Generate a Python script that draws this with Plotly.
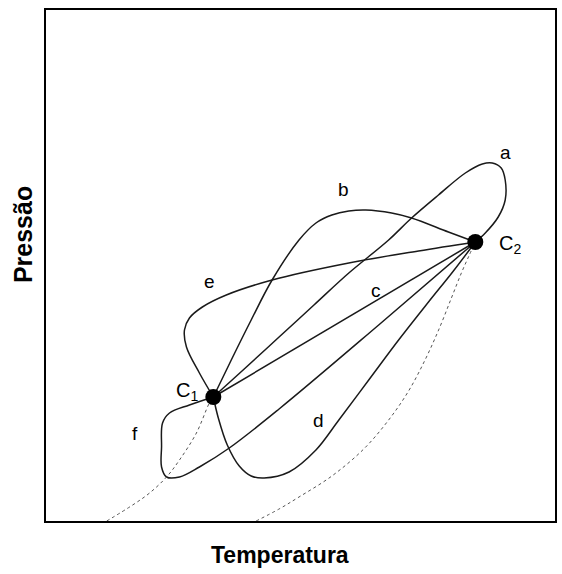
import plotly.graph_objects as go

# Schematic P-T diagram; coordinates in arbitrary units (T to the right, P upward)
# Points (pixel -> units: T = x-46, P = 521-y)
def conv(pts):
    return [p[0] - 46 for p in pts], [521 - p[1] for p in pts]

C1 = (214, 397)
C2 = (477, 242)

curve_a = [(214, 397), (245, 369), (280, 337), (315, 305), (350, 273), (390, 240), (413, 218),
           (440, 195), (467, 173), (484, 164), (494, 163), (503, 168), (507, 180), (507, 200),
           (500, 217), (487, 233), (477, 242)]
curve_b = [(214, 397), (232, 360), (252, 320), (273, 280), (300, 240), (317, 223), (333, 215),
           (350, 211), (367, 210), (393, 213), (413, 218), (450, 232), (477, 242)]
curve_c = [(214, 397), (477, 242)]
curve_d = [(214, 397), (219, 418), (228, 445), (240, 466), (252, 476), (265, 478), (290, 472),
           (317, 450), (340, 420), (370, 380), (400, 340), (430, 302), (455, 271), (477, 242)]
curve_e = [(214, 397), (200, 373), (187, 347), (185, 330), (190, 318), (203, 307), (227, 295),
           (273, 280), (350, 263), (420, 251), (477, 242)]
curve_f = [(214, 397), (190, 405), (170, 413), (163, 423), (162, 447), (162, 467), (167, 477),
           (180, 477), (200, 467), (230, 448), (280, 409), (380, 325), (477, 242)]
dotted_1 = [(107, 521), (133, 505), (150, 493), (167, 477), (180, 460), (197, 433), (210, 403), (214, 397)]
dotted_2 = [(257, 521), (280, 509), (300, 497), (333, 476), (365, 449), (390, 420), (410, 391),
            (427, 359), (441, 328), (453, 298), (463, 273), (471, 255), (477, 242)]

curve_labels = ["a", "b", "c", "d", "e", "f"]
label_pos = [(507, 152), (345, 189), (377, 290), (320, 420), (210, 281), (135, 433)]
point_labels = ["C<sub>1</sub>", "C<sub>2</sub>"]
point_label_pos = [(188, 391), (512, 244)]

FONT = "Liberation Sans, Arial, sans-serif"

fig = go.Figure()
for pts in [curve_a, curve_b, curve_c, curve_d, curve_e, curve_f]:
    x, y = conv(pts)
    fig.add_trace(go.Scatter(x=x, y=y, mode="lines",
                             line=dict(color="#1a1a1a", width=1.5, shape="spline", smoothing=1.0),
                             hoverinfo="skip"))
for pts in [dotted_1, dotted_2]:
    x, y = conv(pts)
    fig.add_trace(go.Scatter(x=x, y=y, mode="lines",
                             line=dict(color="#555555", width=1, dash="dot", shape="spline", smoothing=1.0),
                             hoverinfo="skip"))
x, y = conv([C1, C2])
fig.add_trace(go.Scatter(x=x, y=y, mode="markers", marker=dict(color="black", size=16), hoverinfo="skip"))

for t, p in zip(curve_labels, label_pos):
    fig.add_annotation(x=p[0] - 46, y=521 - p[1], text=t, showarrow=False,
                       font=dict(family=FONT, size=19, color="black"))
for t, p in zip(point_labels, point_label_pos):
    fig.add_annotation(x=p[0] - 46, y=521 - p[1], text=t, showarrow=False,
                       font=dict(family=FONT, size=20, color="black"))

fig.add_annotation(xref="paper", yref="paper", x=(281 - 46) / 511, y=-(555 - 521) / 511,
                   xanchor="center", yanchor="middle",
                   text="<b>Temperatura</b>", showarrow=False,
                   font=dict(family=FONT, size=23, color="black"))
fig.add_annotation(xref="paper", yref="paper", x=(23 - 46) / 511, y=(521 - 235) / 511,
                   xanchor="center", yanchor="middle",
                   text="<b>Pressão</b>", showarrow=False, textangle=-90,
                   font=dict(family=FONT, size=25, color="black"))

fig.update_layout(
    width=562, height=574,
    margin=dict(l=46, r=5, t=10, b=53),
    plot_bgcolor="white", paper_bgcolor="white",
    showlegend=False,
    xaxis=dict(range=[0, 511], showgrid=False, zeroline=False, showticklabels=False, ticks="",
               showline=True, linecolor="black", linewidth=2, mirror=True),
    yaxis=dict(range=[0, 511], showgrid=False, zeroline=False, showticklabels=False, ticks="",
               showline=True, linecolor="black", linewidth=2, mirror=True),
)
fig.write_html("out.html")
